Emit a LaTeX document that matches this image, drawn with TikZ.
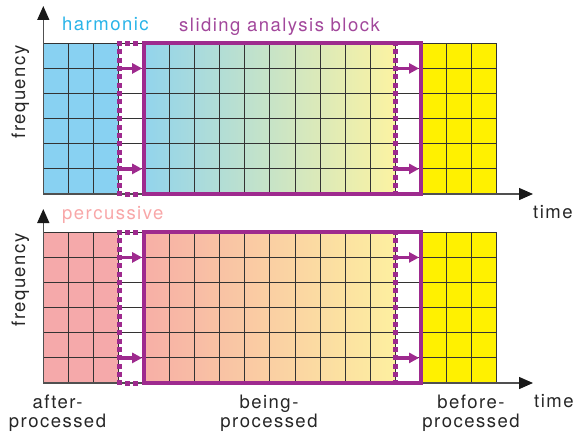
\documentclass[tikz,border=0pt]{standalone}
\usepackage{fontspec}
\setmainfont{TeX Gyre Heros}[LetterSpace=8]
\usetikzlibrary{arrows.meta}
\definecolor{blueC}{HTML}{88D1F2}
\definecolor{pinkC}{HTML}{F5A9AA}
\definecolor{yelC}{HTML}{FFF100}
\definecolor{gTL}{HTML}{92D4EC}
\definecolor{gTR}{HTML}{FCF3A2}
\definecolor{gBL}{HTML}{F7AFA6}
\definecolor{gBR}{HTML}{FDEFA0}
\definecolor{purp}{HTML}{9E2A8E}
\definecolor{purpT}{HTML}{A2479B}
\definecolor{harmT}{HTML}{2AB4E8}
\definecolor{percT}{HTML}{F8A7A8}
\definecolor{axisC}{HTML}{505050}
\definecolor{gridC}{HTML}{333333}
\begin{document}
\begin{tikzpicture}[x=1pt,y=-1pt,
  lbl/.style={inner sep=0pt,font=\fontsize{18.5}{19}\selectfont,text=black!85},
  gridl/.style={draw=gridC,line width=1pt},
  axisl/.style={draw=axisC,line width=1.4pt,-{Triangle[length=14pt,width=12pt,color=black!90]}},
  solidbox/.style={draw=purp,line width=4pt},
  dotsq/.style={fill=purp},
  shiftarr/.style={draw=purp,line width=3.2pt,-{Triangle[length=10pt,width=10pt]}}]
\useasboundingbox (0,0) rectangle (577,436);
\def\X{43.3}\def\cw{25.17}\def\rh{25.12}\def\ds{2.5}
\foreach \off/\lc/\gl/\gr/\tip in {0/blueC/gTL/gTR/6, 189/pinkC/gBL/gBR/209}{
  \begin{scope}[yshift={-\off*1pt}]
    \def\T{43.3}\def\B{194}
    % cells
    \fill[\lc] (\X,\T) rectangle ({\X+3*\cw},\B);
    \shade[left color=\gl,right color=\gr] ({\X+4*\cw},\T) rectangle ({\X+14*\cw},\B);
    \fill[yelC] ({\X+15*\cw},\T) rectangle ({\X+18*\cw},\B);
    % grid
    \foreach \i in {0,...,18} \draw[gridl] ({\X+\i*\cw},\T) -- ({\X+\i*\cw},\B);
    \foreach \j in {0,...,6} \draw[gridl] (\X,{\T+\j*\rh}) -- ({\X+18*\cw},{\T+\j*\rh});
    % axes
    \coordinate (o\off) at (\X,\B);
    \coordinate (yt\off) at (\X,{\tip-\off});
    \coordinate (xt\off) at (533,\B);
    \draw[axisl] (o\off) -- (xt\off);
    \draw[axisl] (o\off) -- (yt\off);
    % dotted previous block (square dots)
    \foreach \xd in {119.3, 395.3}{
      \foreach \k in {0,...,18}
        \fill[dotsq] ({\xd-\ds},{\T+\k*8.37-\ds}) rectangle ({\xd+\ds},{\T+\k*8.37+\ds});
    }
    \foreach \k in {1,2}{
      \fill[dotsq] ({119.3+\k*8.1-\ds},{\T-\ds}) rectangle ({119.3+\k*8.1+\ds},{\T+\ds});
      \fill[dotsq] ({119.3+\k*8.1-\ds},{\B-\ds}) rectangle ({119.3+\k*8.1+\ds},{\B+\ds});
    }
    % solid sliding block
    \coordinate (s1\off) at ({\X+4*\cw},\T);
    \coordinate (s2\off) at ({\X+15*\cw},\B);
    \draw[solidbox] (s1\off) rectangle (s2\off);
    % shift arrows
    \foreach \r in {1,5}{
      \coordinate (aa\off\r) at ({\X+3*\cw+1.5},{\T+\r*\rh});
      \coordinate (ab\off\r) at ({\X+4*\cw-1.8},{\T+\r*\rh});
      \coordinate (ac\off\r) at ({\X+14*\cw+1.5},{\T+\r*\rh});
      \coordinate (ad\off\r) at ({\X+15*\cw-1.8},{\T+\r*\rh});
      \draw[shiftarr] (aa\off\r) -- (ab\off\r);
      \draw[shiftarr] (ac\off\r) -- (ad\off\r);
    }
  \end{scope}
}
% labels
\node[lbl,anchor=base west,text=harmT] (harm) at (62,30.7) {harmonic};
\node[lbl,anchor=base west,text=purpT] (slide) at (179,31.7) {sliding analysis block};
\node[lbl,anchor=base west,text=percT] (perc) at (62,219) {percussive};
\node[lbl,anchor=base,rotate=90] (freqT) at (25,92) {frequency};
\node[lbl,anchor=base,rotate=90] (freqB) at (25,280) {frequency};
\node[lbl,anchor=base west] (timeT) at (533,218) {time};
\node[lbl,anchor=base west] (timeB) at (534,407.5) {time};
\node[lbl,anchor=base] (after1) at (57.5,408.3) {after-};
\node[lbl,anchor=base] (after2) at (57.5,427.3) {processed};
\node[lbl,anchor=base] (being1) at (269,408.3) {being-};
\node[lbl,anchor=base] (being2) at (269,427.3) {processed};
\node[lbl,anchor=base] (before1) at (471,408.3) {before-};
\node[lbl,anchor=base] (before2) at (471,427.3) {processed};
\end{tikzpicture}
\end{document}
